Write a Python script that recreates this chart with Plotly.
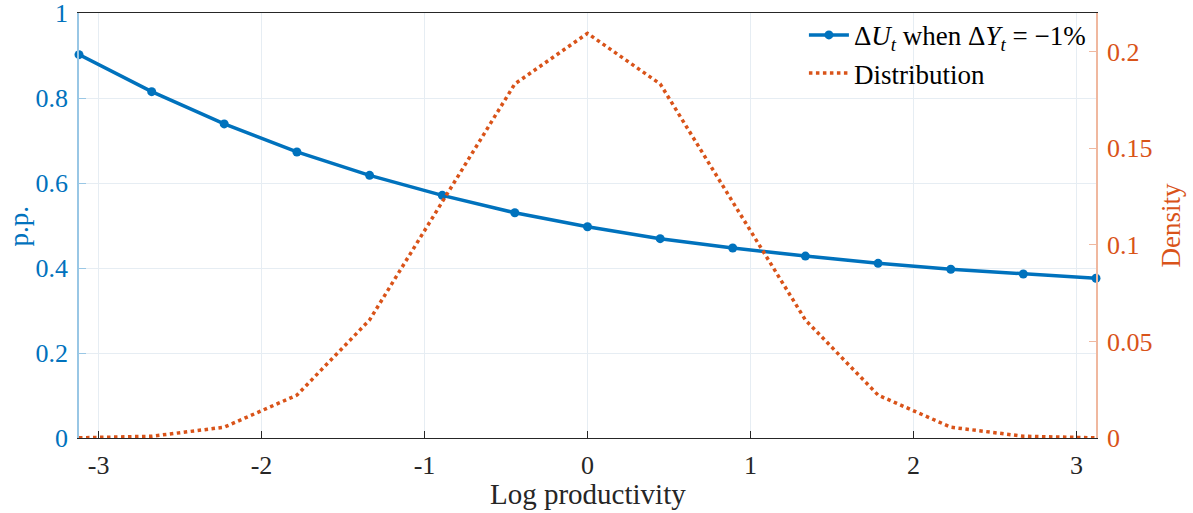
import plotly.graph_objects as go

x_grid = [-3.12, -2.674, -2.229, -1.783, -1.337, -0.891, -0.446, 0.0,
          0.446, 0.891, 1.337, 1.783, 2.229, 2.674, 3.12]
delta_u = [0.902, 0.815, 0.739, 0.673, 0.618, 0.571, 0.530, 0.497,
           0.469, 0.447, 0.428, 0.411, 0.397, 0.386, 0.376]
density = [0.0001, 0.0009, 0.0056, 0.0222, 0.0611, 0.1222, 0.1833, 0.2095,
           0.1833, 0.1222, 0.0611, 0.0222, 0.0056, 0.0009, 0.0001]

x_ticks = [-3, -2, -1, 0, 1, 2, 3]
x_ticktext = ["-3", "-2", "-1", "0", "1", "2", "3"]
y1_ticks = [0, 0.2, 0.4, 0.6, 0.8, 1]
y1_ticktext = ["0", "0.2", "0.4", "0.6", "0.8", "1"]
y2_ticks = [0, 0.05, 0.1, 0.15, 0.2]
y2_ticktext = ["0", "0.05", "0.1", "0.15", "0.2"]

BLUE = "#0072BD"
ORANGE = "#D95319"
FONT = "Liberation Serif"
TICK = 26
TITLE = 27

fig = go.Figure()
fig.add_trace(go.Scatter(
    x=x_grid, y=delta_u, mode="lines+markers",
    name="Δ<i>U</i><sub><i>t</i></sub> when Δ<i>Y</i><sub><i>t</i></sub> = −1%",
    line=dict(color=BLUE, width=3.5),
    marker=dict(color=BLUE, size=9, symbol="circle"),
    yaxis="y", cliponaxis=False,
))
fig.add_trace(go.Scatter(
    x=x_grid, y=density, mode="lines", name="Distribution",
    line=dict(color=ORANGE, width=3.5, dash="dot"),
    yaxis="y2",
))

fig.update_layout(
    width=1193, height=513,
    margin=dict(l=79, r=97, t=13, b=75, autoexpand=False),
    plot_bgcolor="white", paper_bgcolor="white",
    font=dict(family=FONT, size=TICK, color="#262626"),
    showlegend=True,
    legend=dict(x=0.995, y=1.005, xanchor="right", yanchor="top",
                bgcolor="rgba(255,255,255,0)", borderwidth=0,
                font=dict(family=FONT, size=27, color="#000000"),
                tracegroupgap=0, itemwidth=40),
    xaxis=dict(
        range=[-3.12, 3.12], tickvals=x_ticks, ticktext=x_ticktext,
        ticks="inside", ticklen=7, tickcolor="#262626",
        showline=True, linecolor="#262626", linewidth=1, mirror=True,
        showgrid=True, gridcolor="#e6edf3", gridwidth=1, zeroline=False,
        tickfont=dict(size=TICK, color="#262626"),
        ticklabelstandoff=4, automargin=False, ticklabeloverflow="allow",
    ),
    yaxis=dict(
        range=[0, 1], tickvals=y1_ticks, ticktext=y1_ticktext,
        ticks="inside", ticklen=7, tickcolor="#99c7e5",
        showline=True, linecolor="#99c7e5", linewidth=1.5,
        showgrid=True, gridcolor="#e6edf3", gridwidth=1, zeroline=False,
        tickfont=dict(size=TICK, color=BLUE),
        ticklabelstandoff=4, automargin=False, ticklabeloverflow="allow",
    ),
    yaxis2=dict(
        range=[0, 0.22], tickvals=y2_ticks, ticktext=y2_ticktext,
        overlaying="y", side="right",
        ticks="inside", ticklen=7, tickcolor="#f0b89f",
        showline=True, linecolor="#f0b89f", linewidth=1.5,
        showgrid=False, zeroline=False,
        tickfont=dict(size=TICK, color=ORANGE),
        ticklabelstandoff=4, automargin=False, ticklabeloverflow="allow",
    ),
    annotations=[
        dict(text="Log productivity", xref="paper", yref="paper",
             x=0.5, y=-0.132, xanchor="center", yanchor="middle",
             showarrow=False, font=dict(size=29, color="#262626")),
        dict(text="p.p.", xref="paper", yref="paper", textangle=-90,
             x=-0.059, y=0.5, xanchor="center", yanchor="middle",
             showarrow=False, font=dict(size=TITLE, color=BLUE)),
        dict(text="Density", xref="paper", yref="paper", textangle=-90,
             x=1.0728, y=0.5, xanchor="center", yanchor="middle",
             showarrow=False, font=dict(size=TITLE, color=ORANGE)),
    ],
)

fig.write_html("out.html")
